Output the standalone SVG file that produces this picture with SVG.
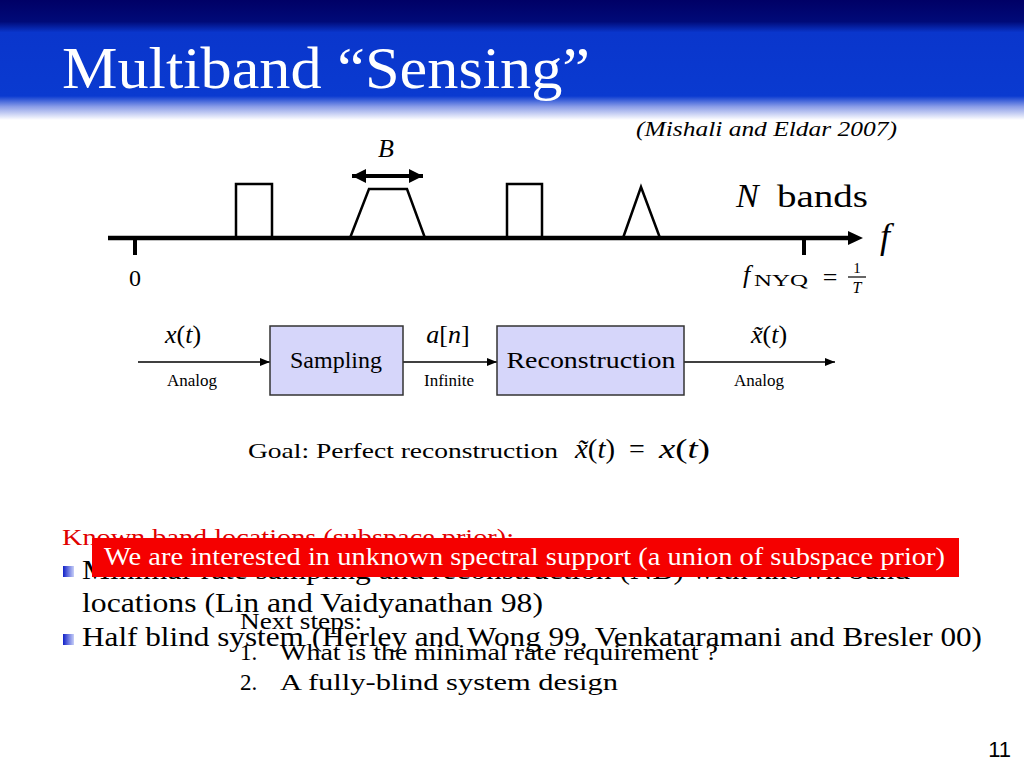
<svg xmlns="http://www.w3.org/2000/svg" width="1024" height="768" viewBox="0 0 1024 768">
<defs>
<linearGradient id="hdr" gradientUnits="userSpaceOnUse" x1="0" y1="0" x2="0" y2="120">
<stop offset="0" stop-color="#000066"/>
<stop offset="0.18" stop-color="#000a78"/>
<stop offset="0.27" stop-color="#0a36cc"/>
<stop offset="0.80" stop-color="#0a3ad0"/>
<stop offset="0.89" stop-color="#8c9ee8"/>
<stop offset="1" stop-color="#ffffff"/>
</linearGradient>
<linearGradient id="bul" x1="0" y1="0" x2="1" y2="0">
<stop offset="0" stop-color="#1020c8"/>
<stop offset="1" stop-color="#c8d0f8"/>
</linearGradient>
<marker id="ah" markerWidth="10" markerHeight="8" refX="10" refY="4" orient="auto" markerUnits="userSpaceOnUse">
<path d="M0,0 L10,4 L0,8 Z" fill="#000"/>
</marker>
<marker id="bh" markerWidth="14" markerHeight="14" refX="14" refY="7" orient="auto-start-reverse" markerUnits="userSpaceOnUse">
<path d="M0,0 L14,7 L0,14 Z" fill="#000"/>
</marker>
</defs>
<style>
.serif{font-family:"Liberation Serif","DejaVu Serif",serif;fill:#000}
.it{font-style:italic}
.up{font-style:normal}
.box{fill:#d6d6fa;stroke:#333;stroke-width:1.5}
.ln{stroke:#000;stroke-width:1.5;fill:none}
.band{stroke:#000;stroke-width:2.5;fill:none}
.lab{font-size:17px}
</style>
<rect x="0" y="0" width="1024" height="768" fill="#fff"/>
<rect x="0" y="0" width="1024" height="120" fill="url(#hdr)"/>
<text class="serif" x="62" y="88" font-size="60" style="fill:#fff" textLength="528" lengthAdjust="spacingAndGlyphs">Multiband “Sensing”</text>
<text class="serif it" x="636" y="136" font-size="22" textLength="261" lengthAdjust="spacingAndGlyphs">(Mishali and Eldar 2007)</text>

<g id="spectrum">
<line x1="108" y1="238" x2="850" y2="238" stroke="#000" stroke-width="4.5"/>
<path d="M848,231 L863,238 L848,245 Z" fill="#000"/>
<line x1="135" y1="238" x2="135" y2="255" stroke="#000" stroke-width="4"/>
<line x1="804" y1="238" x2="804" y2="255" stroke="#000" stroke-width="4"/>
<path class="band" d="M236,238 V184 H272 V238"/>
<path class="band" d="M350,238 L369,189 H407 L425,238"/>
<path class="band" d="M507,238 V184 H542 V238"/>
<path class="band" d="M623,238 L641,187 L660,238"/>
<line x1="352" y1="176" x2="423" y2="176" stroke="#000" stroke-width="4" marker-start="url(#bh)" marker-end="url(#bh)"/>
<text class="serif it" x="386" y="157" font-size="26" text-anchor="middle">B</text>
<text class="serif" x="135" y="286" font-size="24" text-anchor="middle">0</text>
<text class="serif it" x="736" y="207" font-size="34">N</text>
<text class="serif" x="777" y="207" font-size="32" textLength="91" lengthAdjust="spacingAndGlyphs">bands</text>
<text class="serif it" x="880" y="248" font-size="36">f</text>
<text class="serif it" x="743" y="283" font-size="26">f</text>
<text class="serif" x="754" y="286" font-size="17" textLength="54" lengthAdjust="spacingAndGlyphs">NYQ</text>
<text class="serif" x="830" y="286" font-size="26" text-anchor="middle">=</text>
<line x1="848" y1="277" x2="866" y2="277" stroke="#000" stroke-width="1.2"/>
<text class="serif" x="857" y="273" font-size="15" text-anchor="middle">1</text>
<text class="serif it" x="857" y="293" font-size="16" text-anchor="middle">T</text>
</g>

<g id="connectors">
<line class="ln" x1="138" y1="362" x2="270" y2="362" marker-end="url(#ah)"/>
<line class="ln" x1="403" y1="362" x2="497" y2="362" marker-end="url(#ah)"/>
<line class="ln" x1="684" y1="362" x2="835" y2="362" marker-end="url(#ah)"/>
<text class="serif it" x="183" y="343" font-size="26" text-anchor="middle">x<tspan class="up">(</tspan>t<tspan class="up">)</tspan></text>
<text class="serif lab" x="192" y="386" text-anchor="middle">Analog</text>
<text class="serif it" x="448" y="343" font-size="26" text-anchor="middle">a<tspan class="up">[</tspan>n<tspan class="up">]</tspan></text>
<text class="serif lab" x="449" y="386" text-anchor="middle">Infinite</text>
<text class="serif it" x="769" y="343" font-size="26" text-anchor="middle">x̃<tspan class="up">(</tspan>t<tspan class="up">)</tspan></text>
<text class="serif lab" x="759" y="386" text-anchor="middle">Analog</text>
</g>
<g id="sampling">
<rect class="box" x="270" y="326" width="133" height="69"/>
<text class="serif" x="336" y="368" font-size="24" text-anchor="middle">Sampling</text>
</g>
<g id="reconstruction">
<rect class="box" x="497" y="326" width="187" height="69"/>
<text class="serif" x="591" y="368" font-size="24" text-anchor="middle" textLength="169" lengthAdjust="spacingAndGlyphs">Reconstruction</text>
</g>

<text class="serif" x="248" y="458" font-size="22" textLength="310" lengthAdjust="spacingAndGlyphs">Goal: Perfect reconstruction</text>
<text class="serif it" x="575" y="458" font-size="28" textLength="40" lengthAdjust="spacingAndGlyphs">x̃<tspan class="up">(</tspan>t<tspan class="up">)</tspan></text>
<text class="serif" x="637" y="458" font-size="28" text-anchor="middle">=</text>
<text class="serif it" x="659" y="458" font-size="28" textLength="51" lengthAdjust="spacingAndGlyphs">x<tspan class="up">(</tspan>t<tspan class="up">)</tspan></text>

<text class="serif" x="62" y="545" font-size="24" style="fill:#e00000" textLength="452" lengthAdjust="spacingAndGlyphs">Known band locations (subspace prior):</text>
<rect x="63" y="566" width="11" height="11" fill="url(#bul)"/>
<text class="serif" x="82" y="579" font-size="28" textLength="828" lengthAdjust="spacingAndGlyphs">Minimal-rate sampling and reconstruction (NB) with known band</text>
<text class="serif" x="82" y="612" font-size="28" textLength="461" lengthAdjust="spacingAndGlyphs">locations  (Lin and Vaidyanathan 98)</text>
<rect x="63" y="634" width="11" height="11" fill="url(#bul)"/>
<text class="serif" x="82" y="646" font-size="28" textLength="900" lengthAdjust="spacingAndGlyphs">Half blind system (Herley and Wong 99, Venkataramani and Bresler 00)</text>

<rect x="92" y="538" width="867" height="39" fill="#f50000"/>
<text class="serif" x="104" y="565" font-size="26" style="fill:#fff" textLength="841" lengthAdjust="spacingAndGlyphs">We are interested in unknown spectral support (a union of subspace prior)</text>

<text class="serif" x="240" y="629" font-size="23" textLength="122" lengthAdjust="spacingAndGlyphs">Next steps:</text>
<text class="serif" x="240" y="660" font-size="23">1.</text>
<text class="serif" x="280" y="660" font-size="23" textLength="438" lengthAdjust="spacingAndGlyphs">What is the minimal rate requirement ?</text>
<text class="serif" x="240" y="690" font-size="23">2.</text>
<text class="serif" x="280" y="690" font-size="23" textLength="338" lengthAdjust="spacingAndGlyphs">A fully-blind system design</text>

<text x="1011" y="757" font-size="22" text-anchor="end" style="font-family:'Liberation Sans','DejaVu Sans',sans-serif;fill:#000">11</text>
</svg>
